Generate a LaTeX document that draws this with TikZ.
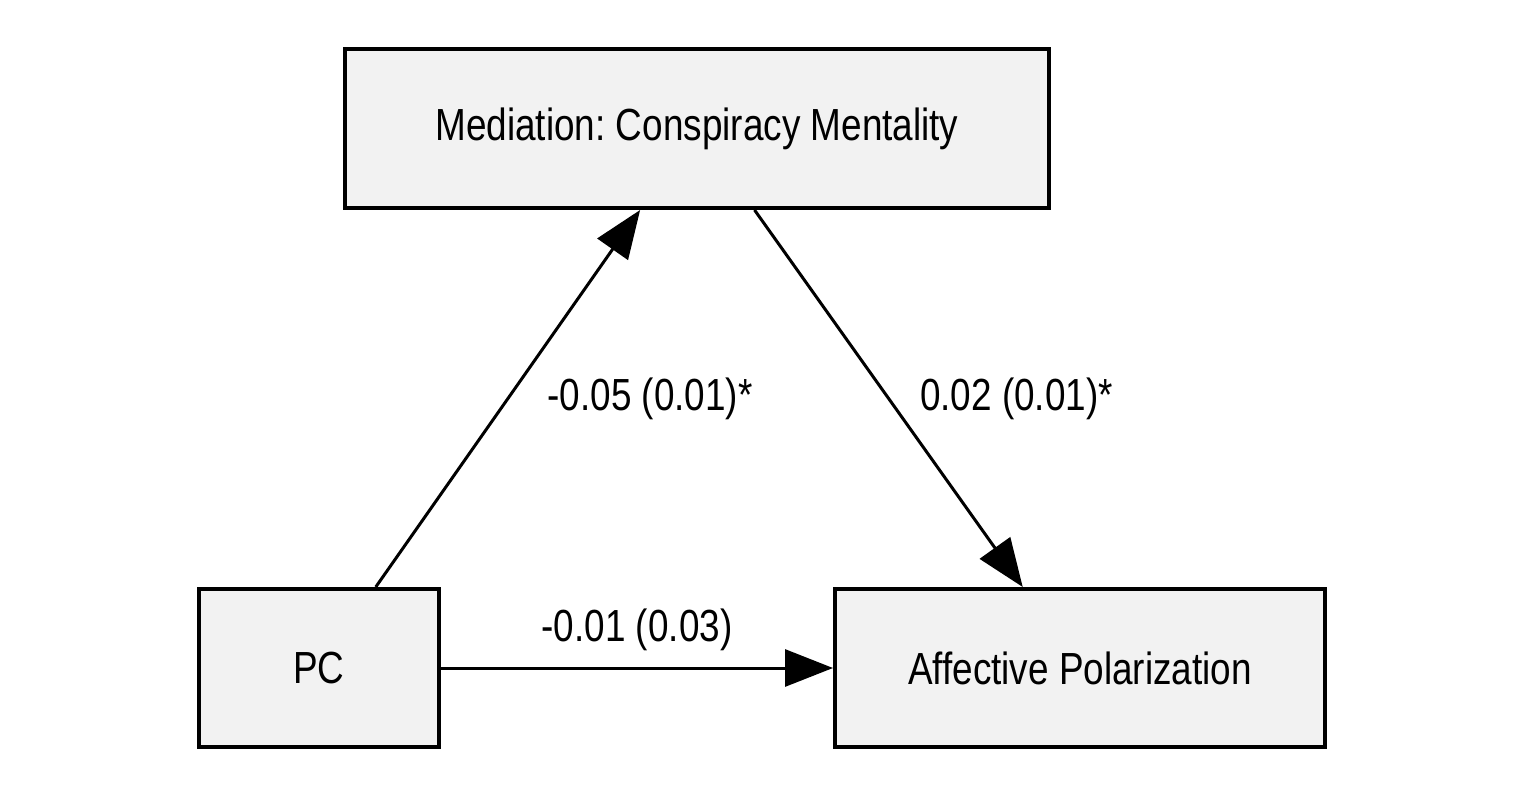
\documentclass[tikz,border=0pt]{standalone}
\usepackage{fontspec}
\setmainfont{Liberation Sans}[FakeStretch=0.82]
\usetikzlibrary{arrows.meta,positioning}
\definecolor{boxgray}{HTML}{F2F2F2}
\frenchspacing

\begin{document}
\begin{tikzpicture}[x=1pt,y=-1pt,
		box/.style={draw,line width=4pt,fill=boxgray,inner sep=0pt,font=\fontsize{45}{54}\selectfont},
		effect/.style={line width=3pt,-{Triangle[length=48pt,width=37pt]}},
		coef/.style={inner sep=0pt,font=\fontsize{45}{54}\selectfont}]
		\useasboundingbox (0,0) rectangle (1520,794);
		\node [box,minimum width=704pt,minimum height=159pt] (med) at (697,128.5) {Mediation: Conspiracy Mentality};
		\node [box,minimum width=240pt,minimum height=158pt] (pc) at (319,668) {PC};
		\node [box,minimum width=490pt,minimum height=158pt] (ap) at (1080,668) {Affective Polarization};
		\draw [effect] (pc) -- node [coef,right=38pt] (a) {-0.05 (0.01)*} (med);
		\draw [effect] (med) -- node [coef,right=30pt] (b) {0.02 (0.01)*} (ap);
		\draw [effect] (pc) -- node [coef,above=16pt] (c) {-0.01 (0.03)} (ap);
	\end{tikzpicture}
\end{document}
